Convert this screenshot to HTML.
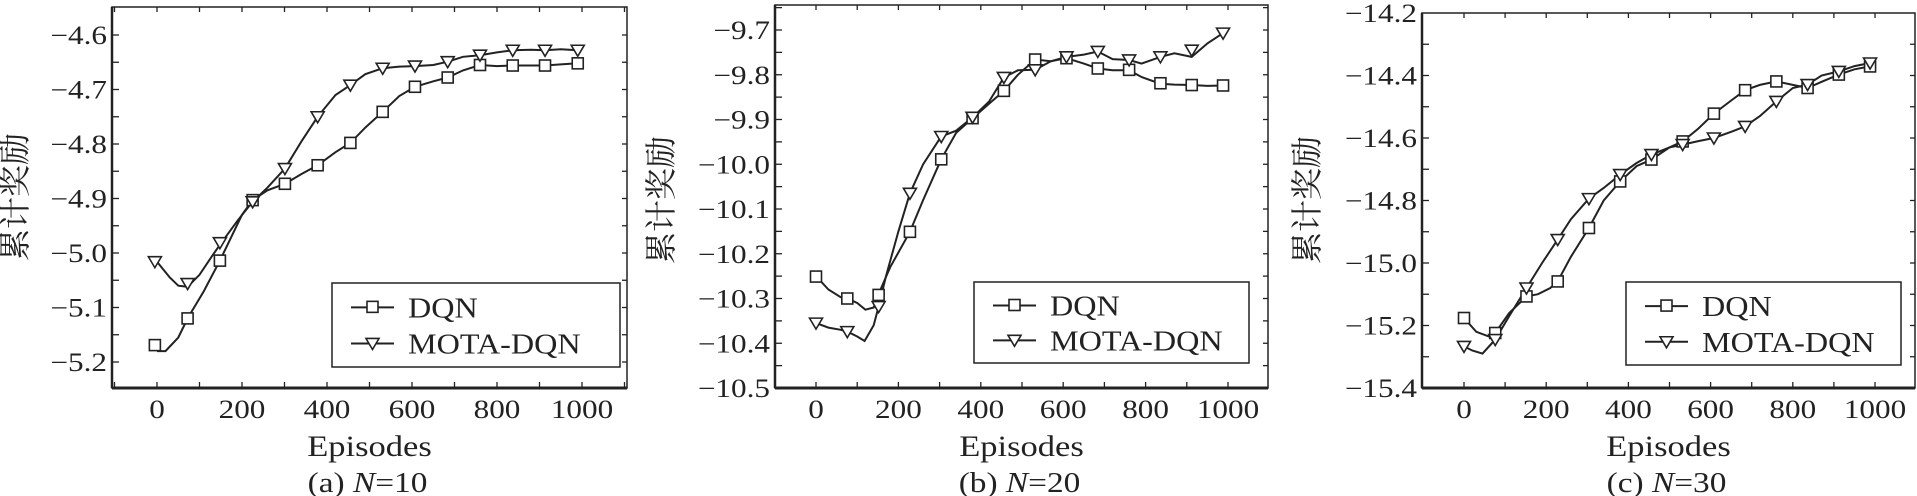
<!DOCTYPE html>
<html><head><meta charset="utf-8"><style>
html,body{margin:0;padding:0;background:#fff;}
svg{display:block;}
text{font-family:"Liberation Serif","Noto Serif CJK SC",serif;fill:#222;}
</style></head><body>
<svg id="chart" width="1917" height="496" viewBox="0 0 1917 496" xmlns="http://www.w3.org/2000/svg"></svg>
<script>
// ---- Panel (a) N=10 ----
const aDqnX = [0,20,50,72,110,148,200,225,260,301,340,378,420,455,490,531,570,607,650,684,720,760,800,837,880,913,950,990];
const aDqnY = [-5.18,-5.18,-5.155,-5.12,-5.07,-5.014,-4.93,-4.903,-4.885,-4.873,-4.855,-4.839,-4.815,-4.798,-4.77,-4.741,-4.712,-4.695,-4.685,-4.678,-4.665,-4.655,-4.657,-4.656,-4.656,-4.656,-4.654,-4.652];
const aMotaX = [0,30,50,72,100,130,148,190,225,260,301,340,378,420,455,490,531,570,607,650,684,720,760,800,837,880,913,950,990];
const aMotaY = [-5.016,-5.045,-5.06,-5.062,-5.04,-5.005,-4.985,-4.94,-4.906,-4.88,-4.845,-4.795,-4.75,-4.71,-4.692,-4.672,-4.661,-4.658,-4.657,-4.655,-4.649,-4.64,-4.637,-4.632,-4.628,-4.627,-4.628,-4.626,-4.628];
const aMarkX = [-5,72,148,225,301,378,455,531,607,684,760,837,913,990];
const aDqnMark = [-5.169,-5.12,-5.014,-4.903,-4.873,-4.839,-4.798,-4.741,-4.695,-4.678,-4.655,-4.656,-4.656,-4.652];
const aMotaMark = [-5.016,-5.056,-4.981,-4.906,-4.845,-4.75,-4.692,-4.661,-4.657,-4.649,-4.637,-4.628,-4.628,-4.628];
const aTicks = ["−4.6","−4.7","−4.8","−4.9","−5.0","−5.1","−5.2"];
const aTickVals = [-4.6,-4.7,-4.8,-4.9,-5.0,-5.1,-5.2];

// ---- Panel (b) N=20 ----
const bDqnX = [0,30,60,76,100,120,140,152,180,228,260,304,340,380,420,456,490,532,570,608,650,684,720,760,790,836,870,912,950,988];
const bDqnY = [-10.25,-10.28,-10.297,-10.3,-10.31,-10.325,-10.32,-10.29,-10.23,-10.151,-10.08,-9.989,-9.93,-9.897,-9.865,-9.836,-9.8,-9.766,-9.77,-9.763,-9.775,-9.786,-9.79,-9.79,-9.805,-9.82,-9.822,-9.823,-9.825,-9.824];
const bMotaX = [0,30,60,76,100,118,140,152,170,200,228,260,304,340,380,420,456,490,532,570,608,650,684,720,760,790,836,870,912,950,988];
const bMotaY = [-10.355,-10.365,-10.37,-10.374,-10.385,-10.395,-10.36,-10.318,-10.25,-10.15,-10.065,-10.0,-9.938,-9.925,-9.895,-9.86,-9.806,-9.79,-9.789,-9.77,-9.76,-9.755,-9.748,-9.765,-9.767,-9.775,-9.76,-9.752,-9.76,-9.73,-9.707];
const bMarkX = [0,76,152,228,304,380,456,532,608,684,760,836,912,988];
const bDqnMark = [-10.251,-10.3,-10.292,-10.151,-9.989,-9.897,-9.836,-9.766,-9.763,-9.786,-9.789,-9.819,-9.823,-9.824];
const bMotaMark = [-10.355,-10.374,-10.318,-10.065,-9.938,-9.895,-9.806,-9.789,-9.76,-9.748,-9.767,-9.76,-9.745,-9.707];
const bTicks = ["−9.7","−9.8","−9.9","−10.0","−10.1","−10.2","−10.3","−10.4","−10.5"];
const bTickVals = [-9.7,-9.8,-9.9,-10.0,-10.1,-10.2,-10.3,-10.4,-10.5];

// ---- Panel (c) N=30 ----
const cDqnX = [0,30,60,76,110,152,180,210,228,260,304,340,380,420,456,500,532,570,608,650,684,720,760,800,836,870,912,950,988];
const cDqnY = [-15.176,-15.22,-15.235,-15.224,-15.16,-15.107,-15.1,-15.08,-15.059,-14.98,-14.888,-14.8,-14.739,-14.69,-14.669,-14.63,-14.611,-14.57,-14.522,-14.48,-14.447,-14.43,-14.419,-14.43,-14.44,-14.42,-14.397,-14.38,-14.371];
const cMotaX = [0,20,45,76,110,152,190,228,260,304,340,380,420,456,500,532,570,608,650,684,720,760,800,836,870,912,950,988];
const cMotaY = [-15.267,-15.28,-15.29,-15.245,-15.17,-15.08,-15.0,-14.925,-14.86,-14.794,-14.76,-14.717,-14.68,-14.653,-14.63,-14.621,-14.61,-14.6,-14.58,-14.563,-14.53,-14.483,-14.44,-14.429,-14.4,-14.387,-14.37,-14.36];
const cMarkX = [0,76,152,228,304,380,456,532,608,684,760,836,912,988];
const cDqnMark = [-15.176,-15.224,-15.107,-15.059,-14.888,-14.739,-14.669,-14.611,-14.522,-14.447,-14.419,-14.44,-14.397,-14.371];
const cMotaMark = [-15.267,-15.245,-15.08,-14.925,-14.794,-14.717,-14.653,-14.621,-14.6,-14.563,-14.483,-14.429,-14.387,-14.36];
const cTicks = ["−14.2","−14.4","−14.6","−14.8","−15.0","−15.2","−15.4"];
const cTickVals = [-14.2,-14.4,-14.6,-14.8,-15.0,-15.2,-15.4];

const xTickVals = [0,200,400,600,800,1000];
const xTickLabels = ["0","200","400","600","800","1000"];

const NS = "http://www.w3.org/2000/svg";
const svg = document.getElementById('chart');
function mk(tag, attrs, parent){
  const e = document.createElementNS(NS, tag);
  for (const k in attrs) e.setAttribute(k, attrs[k]);
  (parent||svg).appendChild(e);
  return e;
}
function txt(parent, s, x, y, size, anchor, sx){
  const t = mk('text', {transform:`translate(${x},${y}) scale(${sx||1.2},1)`, 'font-size':size, 'text-anchor':anchor||'middle'}, parent);
  t.textContent = s;
  return t;
}

function panel(cfg){
  const g = mk('g', {});
  
  
  const xs = v => cfg.x0 + (v - 0) * (cfg.x1000 - cfg.x0) / 1000;
  const ys = v => cfg.yA + (v - cfg.vA) * (cfg.yB - cfg.yA) / (cfg.vB - cfg.vA);
  // frame
  const fr = mk('rect', {x:cfg.L, y:cfg.T, width:cfg.R-cfg.L, height:cfg.B-cfg.T, fill:'none', stroke:'#222', 'stroke-width':1.5}, g);
  
  
  const bx = mk('line', {x1:cfg.L, y1:cfg.B, x2:cfg.R, y2:cfg.B, stroke:'#222', 'stroke-width':3}, g);
  
  
  const ly = mk('line', {x1:cfg.L, y1:cfg.T, x2:cfg.L, y2:cfg.B, stroke:'#222', 'stroke-width':2.5}, g);
  
  
  // x ticks every 100
  for (let v = -100; v <= 1100; v += 100){
    const px = xs(v);
    if (px <= cfg.L + 2 || px >= cfg.R - 2) continue;
    mk('line', {x1:px, y1:cfg.B, x2:px, y2:cfg.B-6, stroke:'#222', 'stroke-width':1.3}, g);
    mk('line', {x1:px, y1:cfg.T, x2:px, y2:cfg.T+5, stroke:'#222', 'stroke-width':1.3}, g);
  }
  xTickVals.forEach((v,i)=>{
    const t = txt(g, xTickLabels[i], xs(v), cfg.B + 30, 26, 'middle');
    
    
  });
  // y ticks (major + minor)
  const step = cfg.minor;
  const vTop = cfg.vA + (cfg.T - cfg.yA) * (cfg.vB - cfg.vA) / (cfg.yB - cfg.yA);
  const vBot = cfg.vA + (cfg.B - cfg.yA) * (cfg.vB - cfg.vA) / (cfg.yB - cfg.yA);
  for (let v = Math.ceil(vBot/step)*step; v <= vTop + 1e-9; v += step){
    const py = ys(v);
    if (py <= cfg.T + 1 || py >= cfg.B - 1) continue;
    mk('line', {x1:cfg.L, y1:py, x2:cfg.L+7, y2:py, stroke:'#222', 'stroke-width':1.3}, g);
    mk('line', {x1:cfg.R, y1:py, x2:cfg.R-5, y2:py, stroke:'#222', 'stroke-width':1.3}, g);
  }
  cfg.tickVals.forEach((v,i)=>{
    const t = txt(g, cfg.ticks[i], cfg.L - 5, ys(v) + 9, 26, 'end');
    
    
  });
  // axis titles
  const yt = mk('text', {transform:`translate(${cfg.ytx},${cfg.yty}) rotate(-90)`, 'font-size':32, 'text-anchor':'middle', 'font-family':'"Noto Serif CJK SC","Noto Sans CJK SC",serif'}, g);
  yt.textContent = '累计奖励';
  
  
  const xt = txt(g, 'Episodes', (cfg.L+cfg.R)/2, 456, 30, 'middle', 1.15);
  
  
  const cap = mk('text', {transform:`translate(${(cfg.L+cfg.R)/2 - 2},492) scale(1.15,1)`, 'font-size':29, 'text-anchor':'middle'}, g);
  cap.innerHTML = cfg.cap + ' <tspan font-style="italic">N</tspan>=' + cfg.n;
  
  
  // series
  const path = (X,Y) => X.map((x,i)=>(i?'L':'M')+xs(x).toFixed(1)+','+ys(Y[i]).toFixed(1)).join(' ');
  const l1 = mk('path', {d:path(cfg.dX,cfg.dY), fill:'none', stroke:'#222', 'stroke-width':2}, g);
  
  
  const l2 = mk('path', {d:path(cfg.mX,cfg.mY), fill:'none', stroke:'#222', 'stroke-width':2}, g);
  
  
  cfg.markX.forEach((x,i)=>{
    const px = xs(x), py = ys(cfg.dM[i]);
    const s = mk('rect', {x:px-5.5, y:py-5.5, width:11, height:11, fill:'#fff', stroke:'#222', 'stroke-width':1.6}, g);
    
    
  });
  cfg.markX.forEach((x,i)=>{
    const px = xs(x), py = ys(cfg.mM[i]);
    const t = mk('path', {d:`M${px-6.5},${py-5} L${px+6.5},${py-5} L${px},${py+6} Z`, fill:'#fff', stroke:'#222', 'stroke-width':1.6}, g);
    
    
  });
  // legend
  const lg = mk('g', {}, g);
  
  
  const L = cfg.leg;
  mk('rect', {x:L.x, y:L.y, width:L.w, height:L.h, fill:'#fff', stroke:'#222', 'stroke-width':1.5}, lg);
  const r1 = L.y + L.h*0.29, r2 = L.y + L.h*0.72;
  const e1 = mk('g', {}, lg);
  
  
  mk('line', {x1:L.x+19, y1:r1, x2:L.x+62, y2:r1, stroke:'#222', 'stroke-width':2}, e1);
  mk('rect', {x:L.x+35, y:r1-6, width:11, height:11, fill:'#fff', stroke:'#222', 'stroke-width':1.6}, e1);
  txt(e1, 'DQN', L.x+76, r1+10, 28, 'start', 1.15);
  const e2 = mk('g', {}, lg);
  
  
  mk('line', {x1:L.x+19, y1:r2, x2:L.x+62, y2:r2, stroke:'#222', 'stroke-width':2}, e2);
  mk('path', {d:`M${L.x+34},${r2-5} L${L.x+47},${r2-5} L${L.x+40.5},${r2+6} Z`, fill:'#fff', stroke:'#222', 'stroke-width':1.6}, e2);
  txt(e2, 'MOTA-DQN', L.x+76, r2+10, 28, 'start', 1.15);
}

panel({name:'panel-a-n10', L:112, R:627, T:7, B:388, x0:157, x1000:582, yA:35, vA:-4.6, yB:362, vB:-5.2, minor:0.05,
  ticks:aTicks, tickVals:aTickVals, ytx:26, yty:197, cap:'(a)', n:'10',
  dX:aDqnX, dY:aDqnY, mX:aMotaX, mY:aMotaY, markX:aMarkX, dM:aDqnMark, mM:aMotaMark,
  leg:{x:332, y:283, w:288, h:84}});
panel({name:'panel-b-n20', L:775, R:1268, T:5, B:388, x0:816, x1000:1228, yA:30, vA:-9.7, yB:388, vB:-10.5, minor:0.05,
  ticks:bTicks, tickVals:bTickVals, ytx:672, yty:200, cap:'(b)', n:'20',
  dX:bDqnX, dY:bDqnY, mX:bMotaX, mY:bMotaY, markX:bMarkX, dM:bDqnMark, mM:bMotaMark,
  leg:{x:974, y:282, w:275, h:81}});
panel({name:'panel-c-n30', L:1422, R:1915, T:13, B:388, x0:1464, x1000:1875, yA:13, vA:-14.2, yB:388, vB:-15.4, minor:0.1,
  ticks:cTicks, tickVals:cTickVals, ytx:1318, yty:200, cap:'(c)', n:'30',
  dX:cDqnX, dY:cDqnY, mX:cMotaX, mY:cMotaY, markX:cMarkX, dM:cDqnMark, mM:cMotaMark,
  leg:{x:1626, y:282, w:275, h:83}});
</script>
</body></html>
